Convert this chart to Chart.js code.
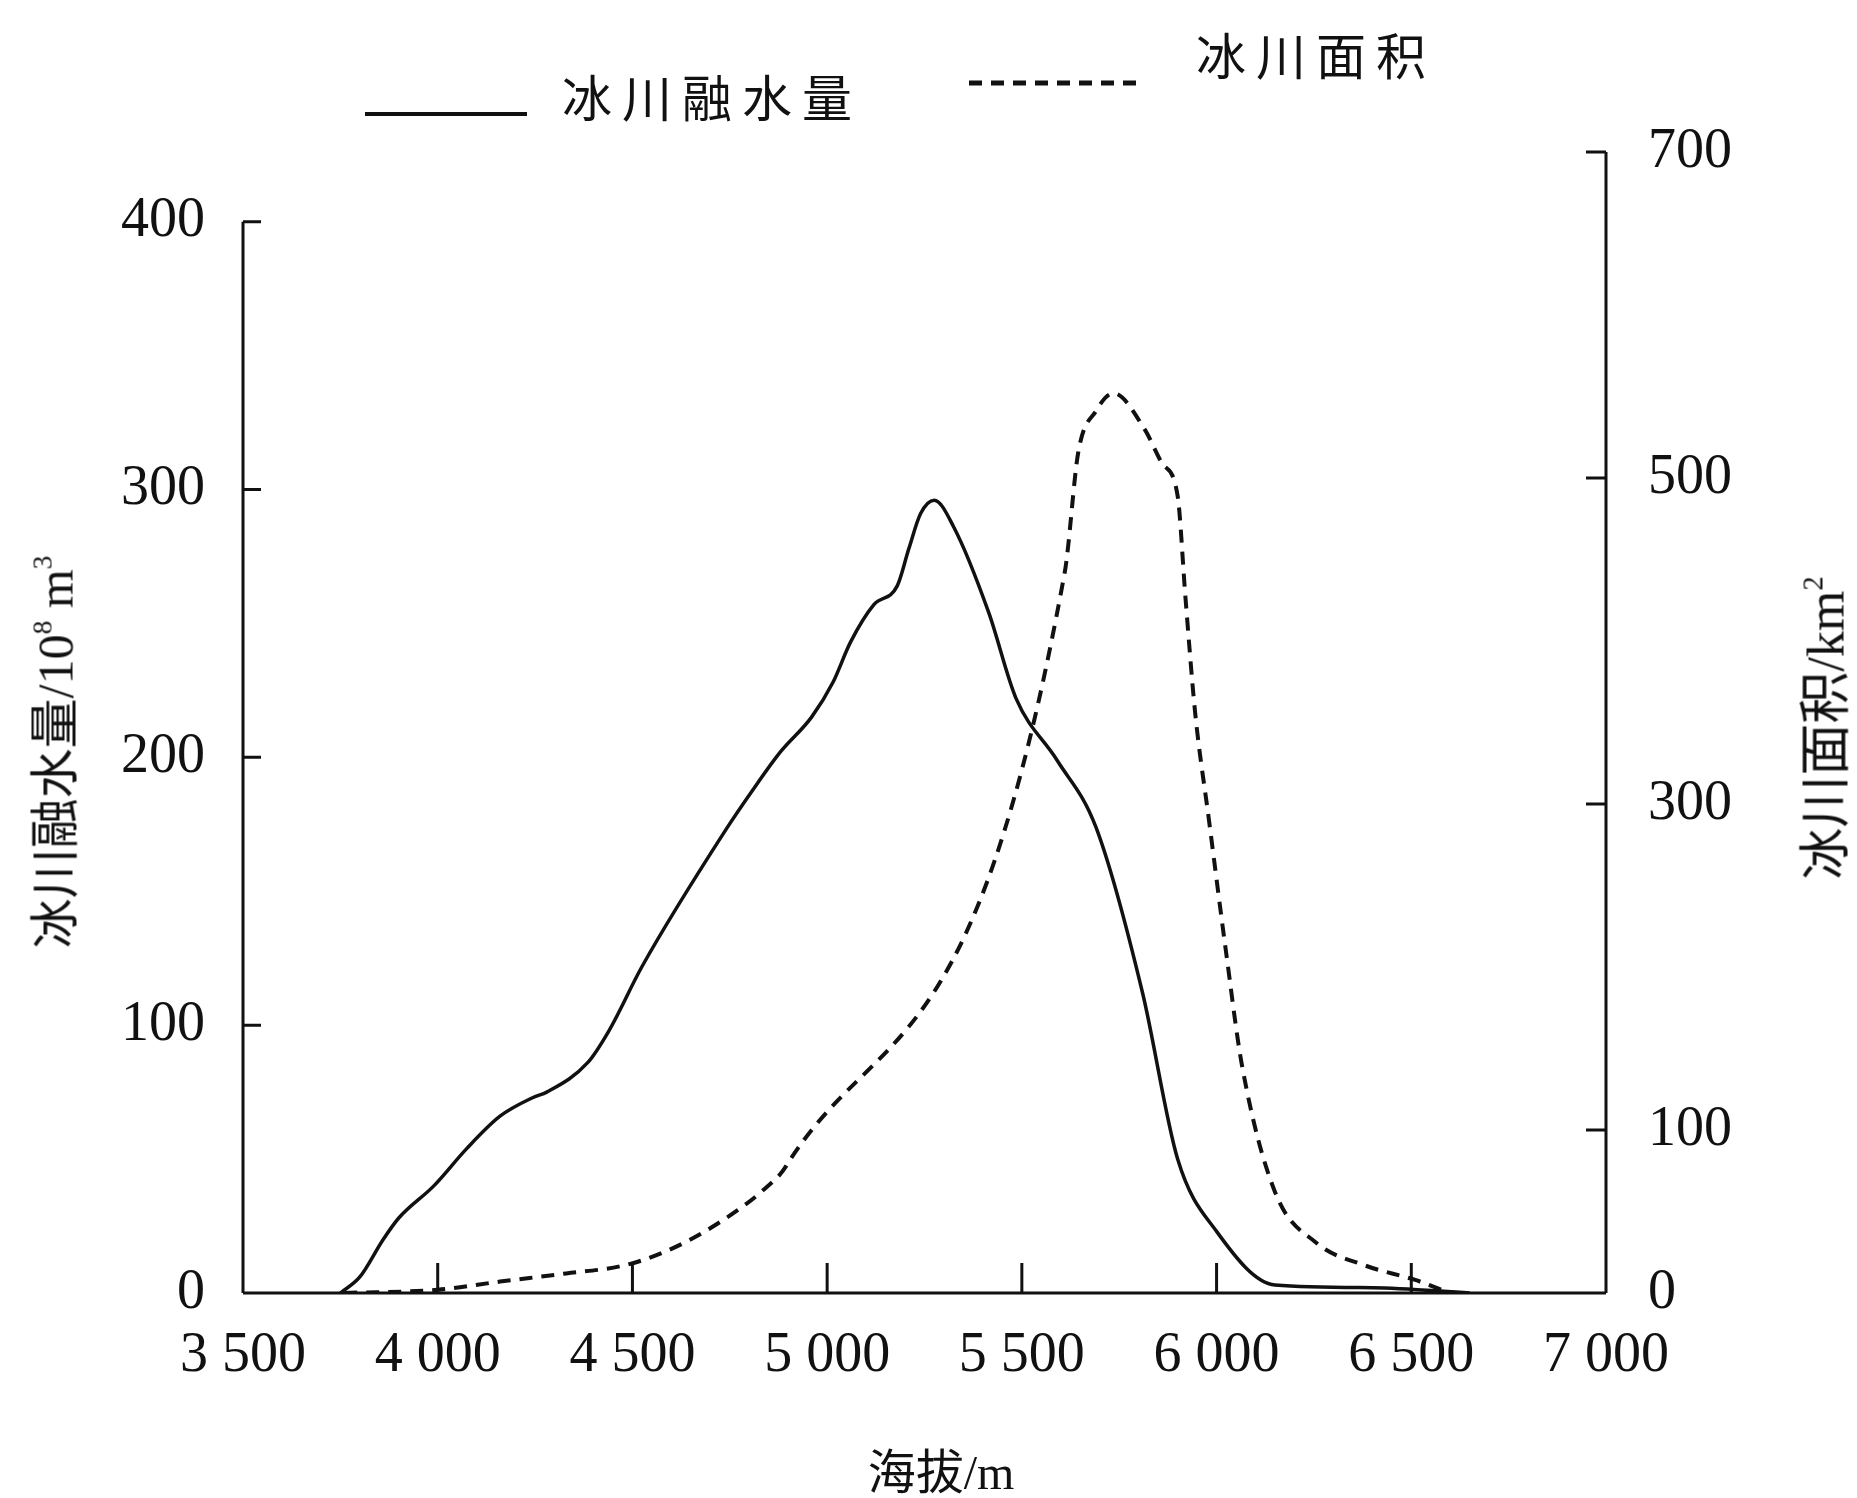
<!DOCTYPE html>
<html>
<head>
	<meta charset="utf-8">
	<title>冰川融水量与冰川面积</title>
	<style>
		body { margin: 0; background: #fff; }
		#wrap { position: relative; width: 1857px; height: 1498px; overflow: hidden; }
		.txt { position: absolute; color: #111; font-family: "Noto Sans CJK SC", "Liberation Serif", serif; white-space: nowrap; line-height: 1; }
		.rot { transform: translate(-50%, -50%) rotate(-90deg); }
		.lat { font-family: "Liberation Serif", serif; }
		sup { font-size: 55%; vertical-align: 0.75em; }
	</style>
</head>
<body>
	<div id="wrap">
		<canvas id="chart"></canvas>

		<!-- legend -->
		<div style="position:absolute; left:365px; top:112px; width:162px; border-top:4px solid #111;"></div>
		<div class="txt" style="left:562px; top:70px; font-size:50px; letter-spacing:10px;">冰川融水量</div>
		<svg style="position:absolute; left:969px; top:78px;" width="170" height="10">
			<line x1="0" y1="5" x2="170" y2="5" stroke="#111" stroke-width="5" stroke-dasharray="13 9" />
		</svg>
		<div class="txt" style="left:1196px; top:28px; font-size:50px; letter-spacing:10px;">冰川面积</div>

		<!-- axis titles -->
		<div class="txt rot" style="left:53px; top:752px; font-size:50px;">冰川融水量<span class="lat">/10<sup>8</sup> m<sup>3</sup></span></div>
		<div class="txt rot" style="left:1824px; top:728px; font-size:52px;">冰川面积<span class="lat">/km<sup>2</sup></span></div>
		<div class="txt" style="left:941px; top:1470px; font-size:48px; transform:translate(-50%, -50%);">海拔<span class="lat">/m</span></div>
	</div>

	<script src="https://cdn.jsdelivr.net/npm/chart.js@4.4.0/dist/chart.umd.min.js"></script>
	<script type="text/javascript">
		// elevation (m) vs glacier meltwater (10^8 m^3)
		const meltElev = [3750, 3800, 3860, 3900, 3990, 4075, 4160, 4245, 4280, 4385, 4440, 4525, 4740, 4810, 4880, 4960, 5015, 5060, 5120, 5180, 5210, 5240, 5275, 5325, 5415, 5485, 5590, 5690, 5810, 5900, 6000, 6150, 6400, 6650];
		const meltValue = [0, 6, 20, 28, 40, 54, 66, 73, 75, 86, 98, 122, 173, 188, 202, 215, 228, 243, 257, 264, 278, 291, 296, 286, 254, 222, 199, 174, 112, 50, 23, 3, 2, 0];

		// elevation (m) vs glacier area (km^2)
		const areaElev = [3760, 4000, 4160, 4330, 4480, 4590, 4715, 4840, 4895, 5610, 5645, 5690, 5735, 5815, 5860, 5900, 5920, 5945, 5980, 6025, 6065, 6150, 6255, 6380, 6510, 6600];
		const areaValue = [0, 2, 7, 12, 17, 26, 42, 64, 78, 442, 516, 541, 552, 530, 509, 489, 427, 356, 291, 208, 140, 62, 31, 17, 8, 0];

		const elevTicks = [3500, 4000, 4500, 5000, 5500, 6000, 6500, 7000];
		const meltTicks = [0, 100, 200, 300, 400];
		const areaTicks = [0, 100, 300, 500, 700];

		const INK = '#111';
		const tickFont = { family: '"Liberation Serif", serif', size: 56 };

		// axes drawn by hand so the ticks point inwards like the printed figure
		const axesPlugin = {
			id: 'axes',
			afterDraw(chart) {
				const c = chart.ctx;
				const x = chart.scales.x, y = chart.scales.y, y1 = chart.scales.y1;
				c.save();
				c.strokeStyle = INK;
				c.lineWidth = 3;
				c.setLineDash([]);
				c.beginPath();
				// x axis
				c.moveTo(x.getPixelForValue(3500), y.getPixelForValue(0));
				c.lineTo(x.getPixelForValue(7000), y.getPixelForValue(0));
				elevTicks.slice(1, -1).forEach(v => {
					const px = x.getPixelForValue(v);
					c.moveTo(px, y.getPixelForValue(0));
					c.lineTo(px, y.getPixelForValue(0) - 30);
				});
				// left axis
				const lx = x.getPixelForValue(3500);
				c.moveTo(lx, y.getPixelForValue(0));
				c.lineTo(lx, y.getPixelForValue(400));
				meltTicks.slice(1).forEach(v => {
					c.moveTo(lx, y.getPixelForValue(v));
					c.lineTo(lx + 18, y.getPixelForValue(v));
				});
				// right axis
				const rx = x.getPixelForValue(7000);
				c.moveTo(rx, y1.getPixelForValue(0));
				c.lineTo(rx, y1.getPixelForValue(700));
				areaTicks.forEach(v => {
					c.moveTo(rx, y1.getPixelForValue(v));
					c.lineTo(rx - 20, y1.getPixelForValue(v));
				});
				c.stroke();
				c.restore();
			}
		};

		const ctx = document.getElementById('chart').getContext('2d');
		const chart = new Chart(ctx, {
			type: 'line',
			data: {
				datasets: [
					{
						label: '冰川融水量',
						data: meltElev.map((e, i) => ({ x: e, y: meltValue[i] })),
						yAxisID: 'y',
						borderColor: INK,
						borderWidth: 3.5,
						pointRadius: 0,
						cubicInterpolationMode: 'monotone'
					},
					{
						label: '冰川面积',
						data: areaElev.map((e, i) => ({ x: e, y: areaValue[i] })),
						yAxisID: 'y1',
						borderColor: INK,
						borderWidth: 4,
						borderDash: [13, 9],
						pointRadius: 0,
						cubicInterpolationMode: 'monotone'
					}
				]
			},
			options: {
				responsive: true,
				maintainAspectRatio: false,
				animation: false,
				layout: { padding: { top: 152, left: 0, right: 0, bottom: 0 } },
				plugins: {
					legend: { display: false },
					tooltip: { enabled: false }
				},
				scales: {
					x: {
						type: 'linear',
						min: 3500,
						max: 7000,
						grid: { display: false },
						border: { display: false },
						afterBuildTicks: s => { s.ticks = elevTicks.map(v => ({ value: v })); },
						afterFit: s => { s.height = 205; },
						ticks: {
							padding: 22,
							color: INK,
							font: tickFont,
							maxRotation: 0,
							callback: v => String(v).replace(/(\d)(\d{3})$/, '$1 $2')
						}
					},
					y: {
						position: 'left',
						min: 0,
						max: 426,
						grid: { display: false },
						border: { display: false },
						afterBuildTicks: s => { s.ticks = meltTicks.map(v => ({ value: v })); },
						afterFit: s => { s.width = 243; },
						ticks: { padding: 30, color: INK, font: tickFont }
					},
					y1: {
						position: 'right',
						min: 0,
						max: 700,
						grid: { display: false },
						border: { display: false },
						afterBuildTicks: s => { s.ticks = areaTicks.map(v => ({ value: v })); },
						afterFit: s => { s.width = 251; },
						ticks: { padding: 34, color: INK, font: tickFont }
					}
				}
			},
			plugins: [axesPlugin]
		});
	</script>
</body>
</html>
